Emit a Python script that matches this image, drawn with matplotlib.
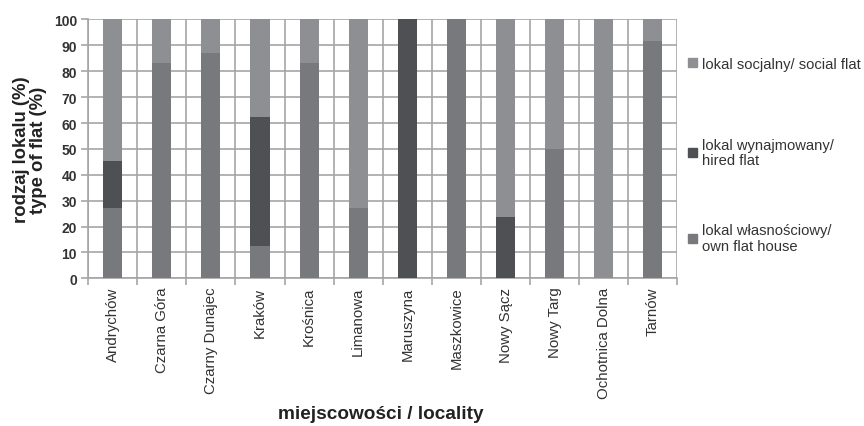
import matplotlib
matplotlib.use("Agg")
import matplotlib.pyplot as plt
import numpy as np
from matplotlib.patches import Patch
from matplotlib.legend import Legend

plt.rcParams['font.family'] = ['Liberation Sans', 'DejaVu Sans']

localities = ["Andrychów", "Czarna Góra", "Czarny Dunajec", "Kraków", "Krośnica",
              "Limanowa", "Maruszyna", "Maszkowice", "Nowy Sącz", "Nowy Targ",
              "Ochotnica Dolna", "Tarnów"]
own_flat = [27.3, 83.0, 87.0, 12.5, 83.3, 27.3, 0.0, 100.0, 0.0, 50.0, 0.0, 91.5]
hired_flat = [18.2, 0.0, 0.0, 50.0, 0.0, 0.0, 100.0, 0.0, 23.5, 0.0, 0.0, 0.0]
social_flat = [54.5, 17.0, 13.0, 37.5, 16.7, 72.7, 0.0, 0.0, 76.5, 50.0, 100.0, 8.5]

label_own = "lokal własnościowy/\nown flat house"
label_hired = "lokal wynajmowany/\nhired flat"
label_social = "lokal socjalny/ social flat"

c_own = "#78797d"
c_hired = "#4f5053"
c_social = "#8e8f93"
c_grid = "#a5a5a5"

fig = plt.figure(figsize=(8.64, 4.27), dpi=100)
ax = fig.add_axes([0.102, 0.346, 0.682, 0.606])

x = np.arange(len(localities))
w = 0.39
own = np.array(own_flat)
hired = np.array(hired_flat)
social = np.array(social_flat)
ax.bar(x, own, w, color=c_own, zorder=3)
ax.bar(x, hired, w, bottom=own, color=c_hired, zorder=3)
ax.bar(x, social, w, bottom=own + hired, color=c_social, zorder=3)

ax.set_xlim(-0.5, len(localities) - 0.5)
ax.set_ylim(0, 100)
ax.set_yticks(np.arange(0, 101, 10))
ax.set_xticks(x)
ax.set_xticklabels(localities, rotation=90, fontsize=10.8, color="#333333")
ax.set_xticks(np.arange(-0.5, len(localities)), minor=True)
ax.tick_params(axis='x', which='major', length=0, pad=6)
ax.tick_params(axis='x', which='minor', length=5, color=c_grid, width=1.2)
ax.tick_params(axis='y', length=5, color=c_grid, width=1.2, labelsize=10, labelcolor="#333333", pad=3)
for t in ax.get_yticklabels():
    t.set_fontweight('bold')
ax.grid(True, axis='y', which='major', color=c_grid, lw=1.2, zorder=0)
ax.grid(True, axis='x', which='minor', color=c_grid, lw=1.2, zorder=0)
for s in ['top', 'right']:
    ax.spines[s].set_visible(False)
for s in ['left', 'bottom']:
    ax.spines[s].set_color(c_grid)
    ax.spines[s].set_linewidth(1.2)

ax.set_ylabel("rodzaj lokalu (%)\ntype of flat (%)", fontsize=13.3, fontweight='bold',
              color="#222222", labelpad=5, linespacing=1.0)
ax.set_xlabel("miejscowości / locality", fontsize=13.7, fontweight='bold', color="#222222",
              va='baseline')
ax.xaxis.set_label_coords(0.497, -0.54)

entries = [(c_social, label_social, 0.8285), (c_hired, label_hired, 0.486), (c_own, label_own, 0.155)]
for color, label, ypos in entries:
    leg = Legend(ax, [Patch(color=color)], [label], loc='center left',
                 bbox_to_anchor=(1.018, ypos), frameon=False, fontsize=10.6,
                 handlelength=0.6, handleheight=0.6, handletextpad=0.35,
                 borderaxespad=0, borderpad=0)
    for t in leg.get_texts():
        t.set_color("#333333")
        t.set_linespacing(1.15)
    ax.add_artist(leg)

fig.savefig("out.png", dpi=100)
